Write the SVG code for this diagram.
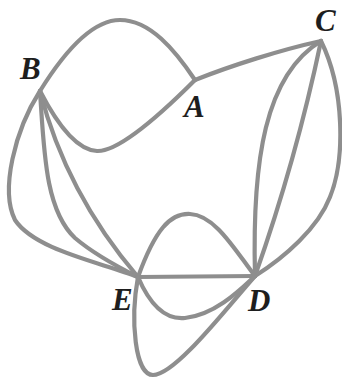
<svg xmlns="http://www.w3.org/2000/svg" width="342" height="381" viewBox="0 0 342 381">
<style>
.e{fill:none;stroke:#8e8e8e;stroke-width:4.2;stroke-linecap:round}
.l{font-family:"Liberation Serif","Times New Roman",serif;font-style:italic;font-weight:bold;font-size:31px;fill:#1e1e1e}
</style>
<rect width="342" height="381" fill="#ffffff"/>
<g id="connectors">
<path class="e" d="M40,91 C58,62 88,20 120,20 C150,20 175,50 195,80"/>
<path class="e" d="M40,91 C55,120 75,150 97,151 C120,152 165,110 195,80"/>
<path class="e" d="M195,80 C230,66 280,50 321,41"/>
<path class="e" d="M40,91 C15,130 0,190 15,220 C35,250 100,262 138,277"/>
<path class="e" d="M40,91 C44,150 45,210 75,238 C95,255 120,268 138,277"/>
<path class="e" d="M40,91 C55,150 85,215 138,277"/>
<path class="e" d="M321,41 C265,75 252,160 255,276"/>
<path class="e" d="M321,41 Q296,160 255,276"/>
<path class="e" d="M321,41 C345,90 345,160 330,197 C318,228 285,257 255,276"/>
<path class="e" d="M138,277 L255,276"/>
<path class="e" d="M138,277 C155,230 170,213 190,214 C215,215 235,250 255,276"/>
<path class="e" d="M138,277 C150,305 165,320 185,318 C215,315 240,290 255,276"/>
<path class="e" d="M138,277 C130,320 135,375 153,375 C175,375 225,310 255,276"/>
</g>
<g id="node-A"><text class="l" x="184" y="117">A</text></g>
<g id="node-B"><text class="l" x="20" y="79">B</text></g>
<g id="node-C"><text class="l" x="315" y="31">C</text></g>
<g id="node-D"><text class="l" x="248" y="311">D</text></g>
<g id="node-E"><text class="l" x="112" y="310">E</text></g>
</svg>
